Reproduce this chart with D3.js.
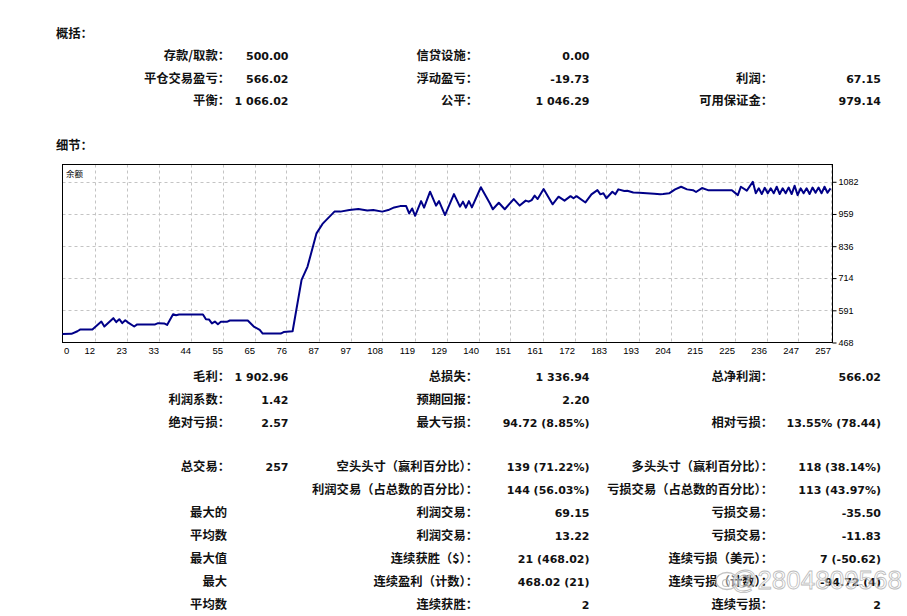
<!DOCTYPE html>
<html><head><meta charset="utf-8">
<script src="https://cdn.jsdelivr.net/npm/d3@7"></script>
<style>body{margin:0;background:#fff} svg{display:block}</style>
</head><body><svg id="c" width="907" height="616"></svg>
<script>
// ---- data ----
const tradeIdx = [0,3,5,6,10,13,14,17,18,19,20,21,22,24,25,31,32,34,35,37,38,39,47,48,49,50,51,52,53,55,56,62,64,66,67,73,74,77,80,82,85,87,91,93,
  96,99,102,104,107,109,111,113,115,116,117,118,120,121,123,125,126,128,131,133,134,135,136,137,140,143,144,146,148,151,153,155,156,157,158,159,161,164,166,168,170,171,172,175,177,179,180,181,182,184,185,186,188,189,191,193,
  198,200,201,203,205,207,209,211,212,214,216,224,226,227,229,231,232,233,234,235,236,237,238,239,240,241,242,243,244,245,246,247,248,249,250,251,252,253,254,255,256,257];
const balance = [500,501,511,518,518,548,529,561,546,557,542,553,544,529,537,537,542,541,535,576,572,575,575,557,556,541,548,538,547,547,552,552,529,516,502,502,508,511,707,758,885,921,968,968,
  974,978,972,974,968,974,984,989,989,961,980,952,1008,983,1044,991,1008,955,1035,987,1006,983,1008,984,1061,1000,977,1002,977,1016,991,1010,1006,1012,1029,1016,1054,996,1025,1010,1027,1019,1027,1003,1034,1050,1034,1038,1019,1044,1034,1053,1047,1048,1041,1040,
  1036,1034,1035,1038,1053,1063,1053,1050,1043,1058,1050,1050,1031,1063,1048,1082,1038,1057,1035,1059,1038,1057,1038,1063,1035,1057,1038,1060,1035,1067,1031,1057,1038,1057,1035,1060,1040,1060,1038,1063,1040,1057];
const xTickLabels = ["0","12","23","33","44","55","65","76","87","97","108","119","129","140","151","161","172","183","193","204","215","225","236","247","257"];
const yTickValues = [468,591,714,836,959,1082];
const seriesName = "余额";

const summaryTitle = "概括：";
const detailTitle = "细节：";
const summaryRows = [
  ["存款/取款：","500.00","信贷设施：","0.00","",""],
  ["平仓交易盈亏：","566.02","浮动盈亏：","-19.73","利润：","67.15"],
  ["平衡：","1 066.02","公平：","1 046.29","可用保证金：","979.14"]
];
const detailRows = [
  ["毛利：","1 902.96","总损失：","1 336.94","总净利润：","566.02"],
  ["利润系数：","1.42","预期回报：","2.20","",""],
  ["绝对亏损：","2.57","最大亏损：","94.72 (8.85%)","相对亏损：","13.55% (78.44)"],
  ["总交易：","257","空头头寸（赢利百分比）：","139 (71.22%)","多头头寸（赢利百分比）：","118 (38.14%)"],
  ["","","利润交易（占总数的百分比）：","144 (56.03%)","亏损交易（占总数的百分比）：","113 (43.97%)"],
  ["最大的","","利润交易：","69.15","亏损交易：","-35.50"],
  ["平均数","","利润交易：","13.22","亏损交易：","-11.83"],
  ["最大值","","连续获胜（$）：","21 (468.02)","连续亏损（美元）：","7 (-50.62)"],
  ["最大","","连续盈利（计数）：","468.02 (21)","连续亏损（计数）：","-94.72 (4)"],
  ["平均数","","连续获胜：","2","连续亏损：","2"]
];
const watermark = "@2804809568";

// ---- drawing ----
const svg = d3.select("#c");
const L = 62.5, R = 832.5, T = 164.5, B = 342.5;
const x = d3.scaleLinear().domain([0, 257]).range([L, 830.5]);
const y = d3.scaleLinear().domain([468, 1148]).range([B, T]);
const xTickPos = xTickLabels.map((d, k) => k * 257 / (xTickLabels.length - 1));

const cjk = "'Noto Sans CJK SC','Microsoft YaHei',sans-serif";
const num = "'DejaVu Sans',Tahoma,sans-serif";
const axisFont = "'Liberation Sans',Arial,sans-serif";

// gridlines
svg.append("g").selectAll("line").data(yTickValues.slice(1)).join("line")
  .attr("x1", L).attr("x2", R).attr("y1", d => Math.round(y(d)) + 0.5).attr("y2", d => Math.round(y(d)) + 0.5)
  .attr("stroke", "#c4c4c4").attr("stroke-dasharray", "3,3");
svg.append("g").selectAll("line").data(xTickPos.slice(1)).join("line")
  .attr("x1", d => Math.round(x(d)) + 0.5).attr("x2", d => Math.round(x(d)) + 0.5).attr("y1", T).attr("y2", B)
  .attr("stroke", "#c4c4c4").attr("stroke-dasharray", "3,3");

// frame
svg.append("rect").attr("x", L).attr("y", T).attr("width", R - L).attr("height", B - T)
  .attr("fill", "none").attr("stroke", "#000");

// line
const line = d3.line().x((d, i) => x(tradeIdx[i])).y(d => y(d));
svg.append("path").attr("d", line(balance)).attr("fill", "none")
  .attr("stroke", "#000088").attr("stroke-width", 2).attr("stroke-linejoin", "round");

// y axis (right)
const yAxis = svg.append("g").attr("transform", `translate(${R},0)`)
  .call(d3.axisRight(y).tickValues(yTickValues).tickFormat(d3.format("d")).tickSize(4).tickPadding(2));
yAxis.select(".domain").remove();
yAxis.selectAll("text").attr("font-family", axisFont).attr("font-size", 9).attr("fill", "#000")
  .attr("dy", "0.32em");
yAxis.selectAll("line").attr("stroke", "#000");

// x axis (bottom)
const xAxis = svg.append("g").attr("transform", `translate(0,${B})`)
  .call(d3.axisBottom(x).tickValues(xTickPos).tickFormat((d, k) => xTickLabels[k]).tickSize(0).tickPadding(0));
xAxis.select(".domain").remove();
xAxis.selectAll("text").attr("font-family", axisFont).attr("font-size", 9.5).attr("fill", "#000")
  .attr("y", 11.5).attr("dy", 0)
  .attr("text-anchor", (d, k) => k === 0 ? "start" : "end")
  .attr("x", (d, k) => k === 0 ? 1 : 0);

// series name
svg.append("text").attr("x", 66).attr("y", 176.5).text(seriesName)
  .attr("font-family", cjk).attr("font-size", 8.5).attr("fill", "#000");

// tables
const colX = [230, 288.5, 478, 589.5, 773, 881];
const CJK_SIZE = 12.3;
function drawRows(rows, ys) {
  rows.forEach((r, i) => {
    const yc = ys[i];
    r.forEach((t, j) => {
      if (!t) return;
      const isVal = j % 2 === 1;
      const noColon = !isVal && !t.endsWith("：");
      svg.append("text").attr("x", noColon ? colX[j] - 3 : colX[j]).attr("y", yc + 4.4)
        .attr("text-anchor", "end")
        .attr("font-family", isVal ? num : cjk)
        .attr("font-weight", "bold")
        .attr("font-size", isVal ? 11 : CJK_SIZE)
        .attr("fill", "#111").text(t);
    });
  });
}
svg.append("text").attr("x", 56).attr("y", 37.5).text(summaryTitle)
  .attr("font-family", cjk).attr("font-weight", "bold").attr("font-size", CJK_SIZE).attr("fill", "#111");
drawRows(summaryRows, [55.7, 78.5, 101]);
svg.append("text").attr("x", 56).attr("y", 149.5).text(detailTitle)
  .attr("font-family", cjk).attr("font-weight", "bold").attr("font-size", CJK_SIZE).attr("fill", "#111");
drawRows(detailRows, [377, 400, 423, 467, 490, 513, 536, 559, 582, 605]);

// watermark
const wm = svg.append("g").attr("opacity", 0.85);
wm.append("ellipse").attr("cx", 727).attr("cy", 581).attr("rx", 11).attr("ry", 8.5)
  .attr("fill", "rgba(255,255,255,0.5)").attr("stroke", "#b8b8b8").attr("stroke-width", 1.3);
wm.append("circle").attr("cx", 726).attr("cy", 583).attr("r", 3.5).attr("fill", "none").attr("stroke", "#b8b8b8").attr("stroke-width", 1.2);
wm.append("text").attr("x", 731).attr("y", 589).text(watermark)
  .attr("font-family", axisFont).attr("font-size", 26)
  .attr("fill", "rgba(255,255,255,0.55)").attr("stroke", "#b0b0b0").attr("stroke-width", 0.8);
</script></body></html>
